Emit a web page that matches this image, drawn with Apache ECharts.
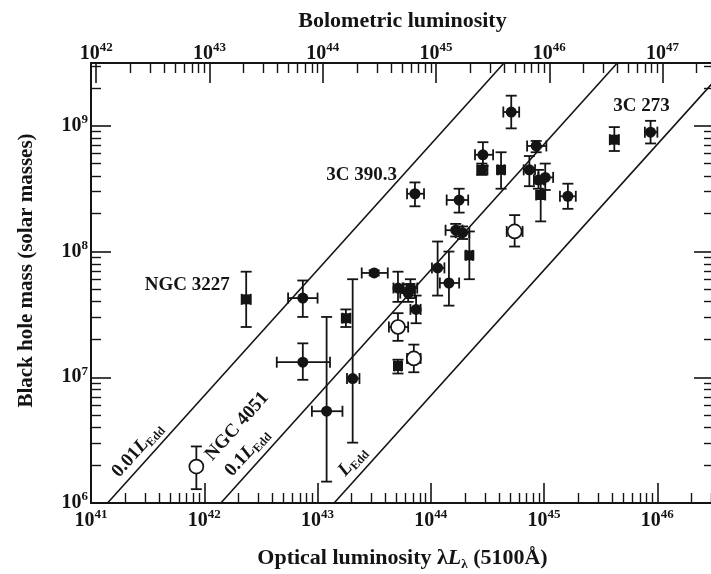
<!DOCTYPE html>
<html>
<head>
<meta charset="utf-8">
<script src="https://cdn.jsdelivr.net/npm/echarts@6/dist/echarts.min.js"></script>
<style>
  html, body { margin: 0; padding: 0; background: #fff; }
  #chart { width: 711px; height: 574px; }
</style>
</head>
<body>
<div id="chart"></div>
<script>
// Reverberation-mapped AGN: black hole mass vs. optical luminosity.
// All values are log10: luminosity in erg/s at 5100 Å, mass in solar masses.
const logLum     = [42.37, 42.87, 42.87, 43.08, 41.93, 43.25, 43.50, 43.31, 43.71, 43.82, 43.80, 43.87, 43.71, 43.71, 43.85, 44.06, 44.16, 44.34, 43.86, 44.25, 44.22, 44.28, 44.46, 44.45, 44.62, 44.71, 44.93, 44.87, 44.95, 45.01, 44.97, 45.21, 44.74, 45.62, 45.94];
const logLumLow  = [42.33, 42.74, 42.64, 42.95, 41.91, 43.22, 43.39, 43.26, 43.67, 43.75, 43.73, 43.82, 43.63, 43.68, 43.79, 44.01, 44.08, 44.31, 43.79, 44.14, 44.13, 44.22, 44.39, 44.41, 44.59, 44.64, 44.85, 44.82, 44.91, 44.95, 44.93, 45.14, 44.67, 45.58, 45.89];
const logLumHigh = [42.41, 43.00, 43.11, 43.22, 41.95, 43.29, 43.62, 43.37, 43.76, 43.88, 43.86, 43.91, 43.80, 43.74, 43.91, 44.12, 44.25, 44.37, 43.94, 44.33, 44.28, 44.34, 44.55, 44.50, 44.65, 44.78, 45.02, 44.92, 45.00, 45.08, 45.01, 45.28, 44.81, 45.66, 46.00];
const logMass     = [7.62, 7.63, 7.12, 6.73, 6.29, 7.47, 7.83, 6.99, 7.71, 7.71, 7.67, 7.54, 7.40, 7.09, 7.15, 7.87, 7.75, 7.97, 8.46, 8.41, 8.17, 8.15, 8.77, 8.65, 8.65, 9.11, 8.84, 8.65, 8.57, 8.59, 8.45, 8.44, 8.16, 8.89, 8.95];
const logMassLow  = [7.40, 7.48, 6.98, 6.17, 6.11, 7.40, 7.81, 6.48, 7.60, 7.63, 7.60, 7.43, 7.29, 7.03, 7.04, 7.65, 7.57, 7.78, 8.36, 8.31, 8.12, 8.10, 8.68, 8.61, 8.50, 8.98, 8.79, 8.52, 8.50, 8.49, 8.24, 8.34, 8.04, 8.80, 8.86];
const logMassHigh = [7.84, 7.77, 7.27, 7.48, 6.45, 7.54, 7.85, 7.78, 7.84, 7.78, 7.74, 7.65, 7.51, 7.14, 7.26, 8.08, 8.00, 8.16, 8.55, 8.50, 8.22, 8.20, 8.87, 8.70, 8.79, 9.24, 8.88, 8.76, 8.65, 8.70, 8.54, 8.54, 8.29, 8.99, 9.04];
const markerKind = ['square', 'filled', 'filled', 'filled', 'open', 'square', 'filled', 'filled', 'filled', 'square', 'filled', 'filled', 'open', 'square', 'open', 'filled', 'filled', 'square', 'filled', 'filled', 'filled', 'filled', 'filled', 'square', 'square', 'filled', 'filled', 'filled', 'filled', 'filled', 'square', 'filled', 'open', 'square', 'filled'];

// Tick labels (powers of ten)
const opticalTicks = [41, 42, 43, 44, 45, 46];
const bolometricTicks = [42, 43, 44, 45, 46, 47];
const massTicks = [6, 7, 8, 9];

// Constant Eddington-ratio lines
const eddingtonRatios = [0.01, 0.1, 1];
const EDD_PER_MSUN = 1.26e38;   // erg/s per solar mass
const BOL_CORR = 9;             // L_bol = 9 λLλ(5100Å)

// Axis extents
const LUM_MIN = 41, LUM_MAX = 46.5;
const MASS_MIN = 6, MASS_MAX = 9.5;
const BOL_SHIFT = Math.log10(BOL_CORR);

const FONT = '"Liberation Serif", "Times New Roman", Times, serif';
const INK = '#141414';

function minorTicks(lo, hi) {
  const out = [];
  for (let n = Math.floor(lo) - 1; n <= Math.ceil(hi); n++) {
    for (let k = 2; k <= 9; k++) {
      const v = n + Math.log10(k);
      if (v > lo && v < hi) out.push(v);
    }
  }
  return out;
}

const powerRich = {
  b: { fontFamily: FONT, fontWeight: 'bold', fontSize: 20, color: INK, lineHeight: 25 },
  e: { fontFamily: FONT, fontWeight: 'bold', fontSize: 13, color: INK, verticalAlign: 'top' }
};
const powerLabel = v => '{b|10}{e|' + Math.round(v) + '}';

const frameLine = { show: true, lineStyle: { color: INK, width: 2 } };

function majorAxis(extra) {
  return Object.assign({
    type: 'value',
    gridIndex: 0,
    axisLine: frameLine,
    splitLine: { show: false },
    axisTick: { show: true, inside: true, length: 20, lineStyle: { color: INK, width: 1.6 } },
    nameTextStyle: { fontFamily: FONT, fontWeight: 'bold', color: INK, fontSize: 22 }
  }, extra);
}
function minorAxis(extra, ticks) {
  return Object.assign({
    type: 'value',
    gridIndex: 1,
    axisLine: { show: false },
    splitLine: { show: false },
    axisLabel: { show: false },
    axisTick: { show: true, inside: true, length: 10, customValues: ticks, lineStyle: { color: INK, width: 1.4 } }
  }, extra);
}

// Points grouped by marker style
function pointsOf(kind) {
  const pts = [];
  logLum.forEach((x, i) => { if (markerKind[i] === kind) pts.push([x, logMass[i]]); });
  return pts;
}
const errorData = logLum.map((x, i) => [x, logMass[i], logLumLow[i], logLumHigh[i], logMassLow[i], logMassHigh[i]]);

function renderErrorBar(params, api) {
  const x = api.value(0), y = api.value(1);
  const c = api.coord([x, y]);
  const xl = api.coord([api.value(2), y])[0];
  const xh = api.coord([api.value(3), y])[0];
  const yl = api.coord([x, api.value(4)])[1];
  const yh = api.coord([x, api.value(5)])[1];
  const cap = 5.5;
  const style = { stroke: INK, lineWidth: 1.8, fill: null };
  const seg = (x1, y1, x2, y2) => ({ type: 'line', shape: { x1, y1, x2, y2 }, style });
  return {
    type: 'group',
    children: [
      seg(xl, c[1], xh, c[1]),
      seg(xl, c[1] - cap, xl, c[1] + cap),
      seg(xh, c[1] - cap, xh, c[1] + cap),
      seg(c[0], yl, c[0], yh),
      seg(c[0] - cap, yl, c[0] + cap, yl),
      seg(c[0] - cap, yh, c[0] + cap, yh)
    ]
  };
}

const eddRich = {
  n: { fontFamily: FONT, fontWeight: 'bold', fontSize: 19, color: INK, lineHeight: 22 },
  L: { fontFamily: FONT, fontWeight: 'bold', fontStyle: 'italic', fontSize: 19, color: INK, lineHeight: 22 },
  s: { fontFamily: FONT, fontWeight: 'bold', fontSize: 12, color: INK, verticalAlign: 'bottom' }
};
const eddLabel = f => (f === 1 ? '' : '{n|' + f + '}') + '{L|L}{s|Edd}';

// Text annotations placed in data coordinates [log λL, log M]
const annotations = [
  { text: '{n|NGC 3227}', at: [41.85, 7.73], angle: 0 },
  { text: '{n|3C 390.3}', at: [43.39, 8.61], angle: 0 },
  { text: '{n|3C 273}', at: [45.86, 9.16], angle: 0 },
  { text: '{n|NGC 4051}', at: [42.29, 6.61], angle: 48 },
  { text: eddLabel(eddingtonRatios[0]), at: [41.41, 6.42], angle: 48 },
  { text: eddLabel(eddingtonRatios[1]), at: [42.38, 6.40], angle: 48 },
  { text: eddLabel(eddingtonRatios[2]), at: [43.31, 6.33], angle: 48 }
];

const eddingtonSeries = eddingtonRatios.map(f => {
  // log M = log λL + log(BC) − log(f · L_Edd per M_sun)
  const shift = BOL_SHIFT - Math.log10(f * EDD_PER_MSUN);
  return {
    type: 'line', xAxisIndex: 0, yAxisIndex: 0, symbol: 'none', silent: true, clip: true, z: 2,
    lineStyle: { color: INK, width: 1.6 },
    data: [[MASS_MIN - shift, MASS_MIN], [MASS_MAX - shift, MASS_MAX]]
  };
});

const chart = echarts.init(document.getElementById('chart'), null, { renderer: 'canvas' });
chart.setOption({
  animation: false,
  backgroundColor: '#fff',
  grid: [
    { left: 91, right: -3, top: 63, bottom: 71, outerBoundsMode: 'none', containLabel: false },
    { left: 91, right: -3, top: 63, bottom: 71, outerBoundsMode: 'none', containLabel: false }
  ],
  xAxis: [
    majorAxis({
      position: 'bottom', min: LUM_MIN, max: LUM_MAX,
      axisTick: { show: true, inside: true, length: 20, customValues: opticalTicks, lineStyle: { color: INK, width: 1.6 } },
      axisLabel: { customValues: opticalTicks, formatter: powerLabel, rich: powerRich, margin: 5 },
      name: '{n|Optical luminosity λ}{i|L}{s|λ}{n| (5100Å)}',
      nameLocation: 'middle', nameGap: 42,
      nameTextStyle: {
        rich: {
          n: { fontFamily: FONT, fontWeight: 'bold', fontSize: 22, color: INK, lineHeight: 26 },
          i: { fontFamily: FONT, fontWeight: 'bold', fontStyle: 'italic', fontSize: 22, color: INK, lineHeight: 26 },
          s: { fontFamily: FONT, fontWeight: 'bold', fontSize: 13, color: INK, verticalAlign: 'bottom' }
        }
      }
    }),
    majorAxis({
      position: 'top', min: LUM_MIN + BOL_SHIFT, max: LUM_MAX + BOL_SHIFT,
      axisTick: { show: true, inside: true, length: 20, customValues: bolometricTicks, lineStyle: { color: INK, width: 1.6 } },
      axisLabel: { customValues: bolometricTicks, formatter: powerLabel, rich: powerRich, margin: -3 },
      name: 'Bolometric luminosity', nameLocation: 'middle', nameGap: 31
    }),
    minorAxis({ position: 'bottom', min: LUM_MIN, max: LUM_MAX }, minorTicks(LUM_MIN, LUM_MAX)),
    minorAxis({ position: 'top', min: LUM_MIN + BOL_SHIFT, max: LUM_MAX + BOL_SHIFT },
              minorTicks(LUM_MIN + BOL_SHIFT, LUM_MAX + BOL_SHIFT))
  ],
  yAxis: [
    majorAxis({
      position: 'left', min: MASS_MIN, max: MASS_MAX,
      axisTick: { show: true, inside: true, length: 20, customValues: massTicks, lineStyle: { color: INK, width: 1.6 } },
      axisLabel: { customValues: massTicks, formatter: powerLabel, rich: powerRich, margin: 3 },
      name: 'Black hole mass (solar masses)', nameLocation: 'middle', nameGap: 54,
      nameTextStyle: { fontFamily: FONT, fontWeight: 'bold', color: INK, fontSize: 21, padding: [0, 0, 0, 25] }
    }),
    majorAxis({
      position: 'right', min: MASS_MIN, max: MASS_MAX,
      axisTick: { show: true, inside: true, length: 20, customValues: massTicks, lineStyle: { color: INK, width: 1.6 } },
      axisLabel: { show: false }
    }),
    minorAxis({ position: 'left', min: MASS_MIN, max: MASS_MAX }, minorTicks(MASS_MIN, MASS_MAX)),
    minorAxis({ position: 'right', min: MASS_MIN, max: MASS_MAX }, minorTicks(MASS_MIN, MASS_MAX))
  ],
  series: [
    ...eddingtonSeries,
    {
      type: 'custom', xAxisIndex: 0, yAxisIndex: 0, z: 3, silent: true,
      renderItem: renderErrorBar, encode: { x: 0, y: 1 }, data: errorData
    },
    {
      type: 'scatter', xAxisIndex: 0, yAxisIndex: 0, z: 4, silent: true,
      symbol: 'circle', symbolSize: 11, itemStyle: { color: INK, opacity: 1 },
      data: pointsOf('filled')
    },
    {
      type: 'scatter', xAxisIndex: 0, yAxisIndex: 0, z: 4, silent: true,
      symbol: 'rect', symbolSize: 10, itemStyle: { color: INK, opacity: 1 },
      data: pointsOf('square')
    },
    {
      type: 'scatter', xAxisIndex: 0, yAxisIndex: 0, z: 4, silent: true,
      symbol: 'circle', symbolSize: 14,
      itemStyle: { color: '#fff', borderColor: INK, borderWidth: 1.7, opacity: 1 },
      data: pointsOf('open')
    },
    {
      type: 'scatter', xAxisIndex: 0, yAxisIndex: 0, z: 5, silent: true,
      symbolSize: 1, itemStyle: { color: 'rgba(0,0,0,0)', opacity: 1 },
      data: annotations.map(a => ({
        value: a.at,
        label: { show: true, position: 'inside', rotate: a.angle, formatter: a.text, rich: eddRich, opacity: 1 }
      }))
    }
  ]
});
</script>
</body>
</html>
